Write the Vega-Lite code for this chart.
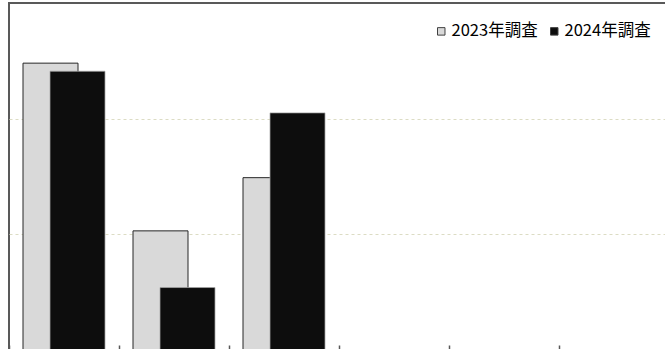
{
  "$schema": "https://vega.github.io/schema/vega-lite/v6.json",
  "width": 660,
  "height": 347,
  "autosize": {"type": "none"},
  "padding": {"left": 9, "top": 3, "right": 0, "bottom": 0},
  "background": "white",
  "config": {
    "view": {"stroke": "#595959", "strokeWidth": 2},
    "font": "Noto Sans CJK JP"
  },
  "data": {
    "values": [
      {"category": "項目1", "year": "2023年調査", "value": 2.48},
      {"category": "項目1", "year": "2024年調査", "value": 2.41},
      {"category": "項目2", "year": "2023年調査", "value": 1.03},
      {"category": "項目2", "year": "2024年調査", "value": 0.54},
      {"category": "項目3", "year": "2023年調査", "value": 1.49},
      {"category": "項目3", "year": "2024年調査", "value": 2.05}
    ]
  },
  "encoding": {
    "x": {
      "field": "category",
      "type": "nominal",
      "sort": null,
      "scale": {"domain": ["項目1", "項目2", "項目3", "項目4", "項目5", "項目6"], "paddingInner": 0, "paddingOuter": 0},
      "axis": {
        "title": null,
        "labels": false,
        "domain": false,
        "ticks": true,
        "bandPosition": 0,
        "tickSize": -5,
        "tickColor": "#595959",
        "tickWidth": 1.5,
        "grid": false
      }
    },
    "y": {
      "field": "value",
      "type": "quantitative",
      "scale": {"domain": [0, 3], "nice": false, "zero": true},
      "axis": {
        "title": null,
        "labels": false,
        "ticks": false,
        "domain": false,
        "values": [1, 2],
        "grid": true,
        "gridColor": "#dcdcc4",
        "gridDash": [3, 3],
        "gridWidth": 1
      }
    },
    "color": {
      "field": "year",
      "type": "nominal",
      "scale": {"domain": ["2023年調査", "2024年調査"], "range": ["#d9d9d9", "#0d0d0d"]},
      "legend": {
        "title": null,
        "orient": "none",
        "legendX": 424,
        "legendY": 20,
        "direction": "horizontal",
        "symbolType": "square",
        "symbolSize": 56,
        "symbolStrokeColor": "#404040",
        "symbolStrokeWidth": 1,
        "symbolOpacity": 1,
        "labelFont": "Noto Sans CJK JP",
        "labelFontSize": 16.5,
        "labelColor": "#000000",
        "labelOffset": 2,
        "columnPadding": 8
      }
    }
  },
  "layer": [
    {
      "transform": [{"filter": "datum.year == '2023年調査'"}],
      "mark": {"type": "bar", "width": 55, "xOffset": -13.5, "stroke": "#262626", "strokeWidth": 1, "opacity": 1}
    },
    {
      "transform": [{"filter": "datum.year == '2024年調査'"}],
      "mark": {"type": "bar", "width": 55, "xOffset": 13.5, "stroke": "#a6a6a6", "strokeWidth": 0.75, "opacity": 1}
    }
  ]
}
